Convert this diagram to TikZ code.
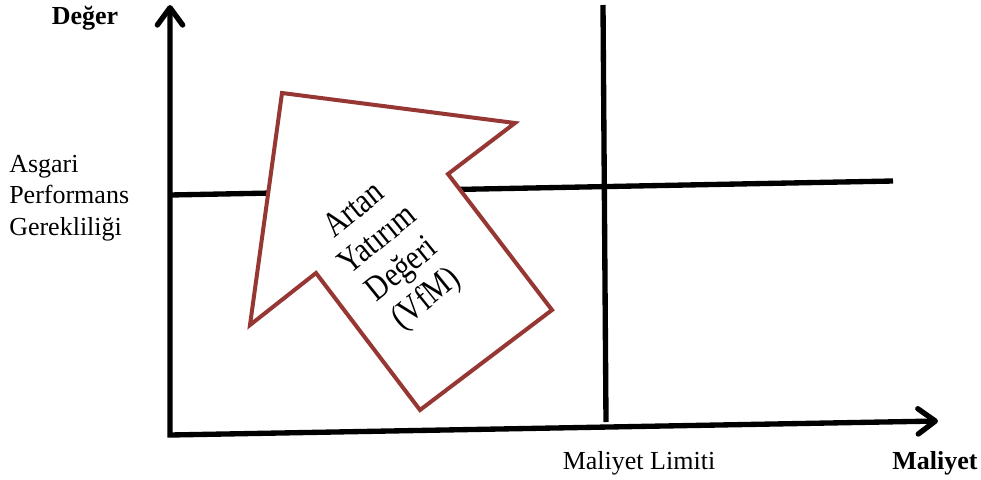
\documentclass[tikz,border=0pt]{standalone}
\usepackage{fontspec}
\setmainfont{Liberation Serif}
\usetikzlibrary{arrows.meta}
\definecolor{vfmred}{RGB}{150,55,52}
\tikzset{
  axis/.style={line width=4pt, {Straight Barb[length=13pt,width=19pt,round]}-{Straight Barb[length=13pt,width=19pt,round]}},
  guide/.style={line width=4pt},
  vfmarrow/.style={draw=vfmred, line width=3pt, fill=white, line join=miter},
  plainlabel/.style={font=\fontsize{19.5}{23.5}\selectfont, inner sep=0pt},
  boldlabel/.style={font=\fontsize{19.5}{23.5}\selectfont\bfseries, inner sep=0pt},
}
\begin{document}
\begin{tikzpicture}[x=0.75pt, y=-0.75pt]
  \useasboundingbox (0,0) rectangle (981,479);

  % axes
  \coordinate (origin) at (170,435);
  \coordinate (ytop)   at (170,5);
  \coordinate (xend)   at (938,421);
  \draw[axis] (ytop) -- (origin) -- (xend);

  % limit lines
  \coordinate (limtop) at (603,5);
  \coordinate (limbot) at (606,422);
  \coordinate (reqleft)  at (170,195);
  \coordinate (reqright) at (893,181);
  \draw[guide] (reqleft) -- (reqright);
  \draw[guide] (limtop) -- (limbot);

  % big arrow
  \draw[vfmarrow] (282,93) -- (515,123) -- (448,174) -- (552,310)
        -- (420,410) -- (316,273) -- (250,325) -- cycle;
  \node[plainlabel, rotate=39, yscale=1.2, align=center,
        font=\fontsize{22}{23.8}\selectfont] (vfm) at (391,256)
        {Artan\\Yatırım\\Değeri\\(VfM)};

  % labels
  \node[boldlabel] (deger) at (85,18) {Değer};
  \node[plainlabel, anchor=west, align=left] (asgari) at (9,198)
        {Asgari\\Performans\\Gerekliliği};
  \node[plainlabel] (limit) at (639,463) {Maliyet Limiti};
  \node[boldlabel] (maliyet) at (935,463) {Maliyet};

\end{tikzpicture}
\end{document}
